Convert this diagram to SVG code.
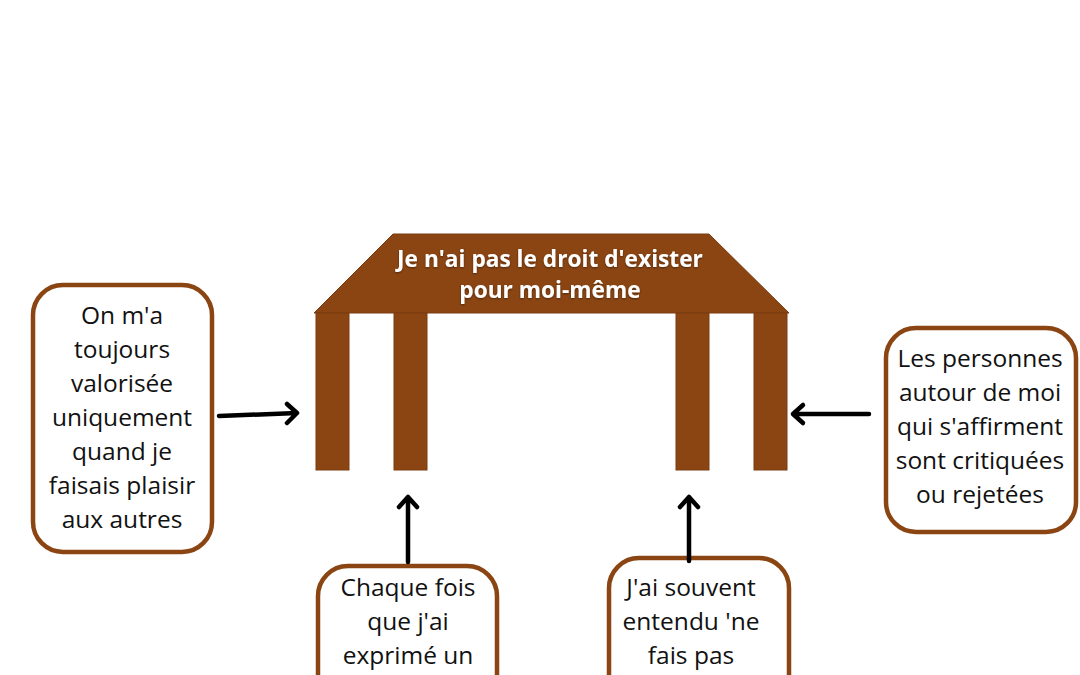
<svg xmlns="http://www.w3.org/2000/svg" width="1080" height="675" viewBox="0 0 1080 675">
<defs>
<style>
.box{fill:#fff;stroke:#8B4513;stroke-width:4.5}
.wood{fill:#8B4513;stroke:#7a3c10;stroke-width:1}
.t{font-family:"Open Sans","Noto Sans",sans-serif;font-size:24.5px;fill:#111;text-anchor:middle}
.title{font-family:"Open Sans","Noto Sans",sans-serif;font-size:22.7px;font-weight:bold;fill:#fff;text-anchor:middle}
.conn{stroke:#000;stroke-width:4.5;fill:none;stroke-linecap:round;stroke-linejoin:round}
</style>
<filter id="sh" x="-10%" y="-30%" width="120%" height="160%">
<feDropShadow dx="0" dy="1" stdDeviation="1.2" flood-color="#000" flood-opacity="0.45"/>
</filter>
</defs>
<rect width="1080" height="675" fill="#fff"/>
<g id="table">
<polygon class="wood" points="393,234 709,234 789,313 314,313"/>
<rect class="wood" x="316" y="313" width="33" height="157"/>
<rect class="wood" x="394" y="313" width="33" height="157"/>
<rect class="wood" x="676" y="313" width="33" height="157"/>
<rect class="wood" x="754" y="313" width="33" height="157"/>
<text class="title" filter="url(#sh)"><tspan x="550" y="267">Je n'ai pas le droit d'exister</tspan><tspan x="550" y="298">pour moi-même</tspan></text>
</g>
<g id="node-left">
<rect class="box" x="33" y="285" width="179" height="267" rx="30"/>
<text class="t"><tspan x="122" y="324">On m'a</tspan><tspan x="122" y="358">toujours</tspan><tspan x="122" y="392">valorisée</tspan><tspan x="122" y="426">uniquement</tspan><tspan x="122" y="460">quand je</tspan><tspan x="122" y="494">faisais plaisir</tspan><tspan x="122" y="528">aux autres</tspan></text>
</g>
<g id="node-right">
<rect class="box" x="886" y="328" width="190" height="204" rx="30"/>
<text class="t"><tspan x="980" y="367">Les personnes</tspan><tspan x="980" y="401">autour de moi</tspan><tspan x="980" y="435">qui s'affirment</tspan><tspan x="980" y="469">sont critiquées</tspan><tspan x="980" y="503">ou rejetées</tspan></text>
</g>
<g id="node-bottom-left">
<rect class="box" x="318" y="566" width="179" height="140" rx="30"/>
<text class="t"><tspan x="408" y="596">Chaque fois</tspan><tspan x="408" y="630">que j'ai</tspan><tspan x="408" y="664">exprimé un</tspan></text>
</g>
<g id="node-bottom-right">
<rect class="box" x="609" y="558" width="180" height="150" rx="30"/>
<text class="t"><tspan x="691" y="596">J'ai souvent</tspan><tspan x="691" y="630">entendu 'ne</tspan><tspan x="691" y="664">fais pas</tspan></text>
</g>
<g id="connectors">
<path class="conn" d="M219,416 L297,413 M287,404 L297,413 L287,423"/>
<path class="conn" d="M869,414 L793,414 M803,405 L793,414 L803,423"/>
<path class="conn" d="M408,562 L408,497 M399,507 L408,497 L417,507"/>
<path class="conn" d="M689,561 L689,497 M680,507 L689,497 L698,507"/>
</g>
</svg>
